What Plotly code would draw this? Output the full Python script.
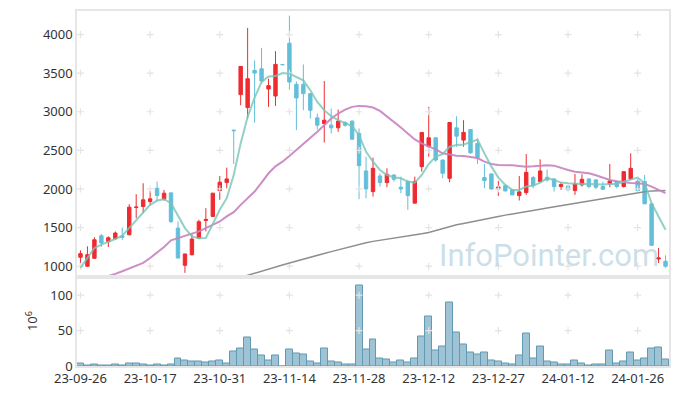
import pandas as pd
import plotly.graph_objects as go

# ---- trading days (KRX calendar) ----
holidays = ["2023-09-28", "2023-09-29", "2023-10-02", "2023-10-03", "2023-10-09",
            "2023-12-25", "2023-12-29", "2024-01-01"]
days = [d for d in pd.bdate_range("2023-09-26", "2024-02-01") if d.strftime("%Y-%m-%d") not in holidays]
dates = [d.strftime("%y-%m-%d") for d in days]

# ---- OHLC (KRW) ----
opens = [1115, 999, 1102, 1394, 1317, 1355, 1390, 1407, 1760, 1773,
         1837, 2009, 1867, 1949, 1493, 1011, 1149, 1364, 1592, 1644,
         1979, 2082, 2762, 3222, 3054, 3536, 3557, 3295, 3204, 3610,
         3888, 3355, 3355, 3235, 2921, 2848, 2826, 2792, 2861, 2878,
         2719, 2233, 1966, 2168, 2082, 2181, 2022, 2095, 1816, 2289,
         2547, 2663, 2375, 2138, 2792, 2633, 2770, 2590, 2147, 2194,
         2000, 2043, 1988, 1914, 1953, 2147, 2095, 2151, 2130, 2031,
         2039, 1979, 2052, 2130, 2117, 2031, 2065, 2095, 2031, 2130,
         2100, 2095, 1807, 1093, 1063]
highs = [1205, 1257, 1373, 1416, 1386, 1450, 1500, 1803, 1932, 2074,
         1975, 2095, 1988, 1958, 1579, 1160, 1416, 1601, 1751, 1950,
         2168, 2276, 2765, 3587, 4086, 3665, 3828, 3428, 3785, 3610,
         4245, 3394, 3613, 3240, 2977, 3398, 3041, 3028, 2878, 2891,
         2783, 2418, 2405, 2203, 2267, 2190, 2160, 2117, 2160, 2732,
         3063, 2670, 2380, 2862, 2942, 2891, 2775, 2654, 2323, 2203,
         2104, 2052, 1996, 2168, 2452, 2168, 2383, 2254, 2138, 2087,
         2040, 2194, 2190, 2138, 2125, 2095, 2323, 2104, 2228, 2461,
         2125, 2181, 1810, 1235, 1140]
lows = [977, 990, 1093, 1248, 1248, 1342, 1340, 1399, 1622, 1687,
        1785, 1837, 1850, 1558, 1100, 913, 1136, 1351, 1450, 1640,
        1859, 2009, 2323, 3084, 2912, 2860, 3364, 3063, 3076, 3610,
        3286, 2762, 3020, 2912, 2770, 2602, 2719, 2740, 2805, 2633,
        1867, 1880, 1902, 2031, 2022, 2095, 1945, 1730, 1816, 2224,
        2418, 2353, 2138, 2087, 2547, 2547, 2452, 2323, 2009, 1988,
        1910, 1966, 1919, 1850, 1923, 2009, 2087, 2095, 1966, 1988,
        1979, 1923, 2031, 2009, 1996, 1988, 2022, 2009, 2018, 2117,
        1966, 1805, 1268, 1042, 977]
closes = [1162, 1149, 1342, 1300, 1368, 1429, 1375, 1764, 1765, 1859,
          1872, 1914, 1945, 1579, 1106, 1158, 1351, 1575, 1605, 1945,
          2087, 2130, 2755, 3587, 3428, 3501, 3398, 3338, 3613, 3610,
          3385, 3179, 3235, 3020, 2826, 2891, 2792, 2878, 2826, 2645,
          2301, 2000, 2267, 2082, 2190, 2125, 2000, 1914, 2095, 2732,
          2663, 2375, 2203, 2860, 2684, 2732, 2469, 2405, 2108, 2000,
          2026, 1975, 1923, 1962, 2215, 2043, 2233, 2117, 2031, 2057,
          1988, 2065, 2125, 2031, 2022, 1996, 2104, 2031, 2224, 2267,
          1979, 1807, 1270, 1106, 999]

# ---- moving averages ----
ma5 = [977, 1106, 1235, 1278, 1312, 1351, 1394, 1493, 1601, 1700,
       1794, 1850, 1867, 1816, 1644, 1493, 1386, 1360, 1364, 1558,
       1730, 1880, 2181, 2590, 2934, 3183, 3385, 3458, 3463, 3501,
       3493, 3450, 3407, 3278, 3127, 3020, 2942, 2891, 2856, 2813,
       2697, 2482, 2353, 2246, 2181, 2151, 2138, 2095, 2082, 2181,
       2323, 2418, 2452, 2547, 2568, 2577, 2605, 2641, 2461, 2289,
       2147, 2052, 1988, 1988, 2031, 2043, 2082, 2138, 2117, 2082,
       2074, 2065, 2065, 2065, 2057, 2057, 2065, 2065, 2095, 2125,
       2147, 2074, 1816, 1644, 1472]
ma20 = [765, 790, 815, 840, 865, 900, 934, 973, 1007, 1042,
        1106, 1179, 1248, 1334, 1364, 1386, 1420, 1450, 1493, 1536,
        1579, 1644, 1700, 1794, 1880, 1966, 2082, 2203, 2293, 2353,
        2426, 2504, 2572, 2654, 2740, 2826, 2912, 2977, 3028, 3063,
        3076, 3071, 3054, 3011, 2942, 2869, 2796, 2719, 2641, 2590,
        2555, 2512, 2461, 2444, 2431, 2426, 2416, 2400, 2353, 2323,
        2310, 2310, 2306, 2297, 2289, 2293, 2302, 2306, 2302, 2271,
        2246, 2224, 2211, 2203, 2177, 2142, 2117, 2099, 2087, 2078,
        2074, 2065, 2031, 1988, 1945]
ma60 = [None] * 21 + [
        800, 828, 855, 885, 912, 940, 965, 990, 1016,
        1042, 1068, 1093, 1117, 1141, 1165, 1188, 1213, 1239, 1263,
        1287, 1304, 1321, 1334, 1347, 1360, 1373, 1388, 1403, 1420,
        1437, 1463, 1489, 1512, 1536, 1553, 1573, 1589, 1605, 1625,
        1644, 1661, 1678, 1693, 1708, 1723, 1738, 1753, 1768, 1788,
        1807, 1822, 1837, 1852, 1867, 1880, 1893, 1906, 1919, 1936,
        1953, 1964, 1975, 1977, 1979]

# ---- volume (x 10^6 shares) ----
volume = [3.4, 0.5, 2, 0.5, 0.5, 2, 0.5, 3.4, 3.4, 2,
          0.5, 2, 0.5, 2, 10.5, 7.6, 6.2, 6.2, 4.8, 6.2,
          7.6, 3.4, 20.4, 24.6, 40.2, 23.2, 14.7, 7.6, 14.7, 0,
          23.2, 17.6, 16.1, 6.2, 3.4, 24.6, 6.2, 4.8, 2, 2,
          113.9, 23.2, 37.4, 10.5, 9, 4.8, 7.6, 4.8, 10.5, 41.6,
          70, 21.8, 27.5, 89.8, 47.3, 30.3, 19, 16.1, 19, 7.6,
          6.2, 3.4, 2, 14.7, 45.9, 10.5, 27.5, 6.2, 4.8, 2,
          2, 7.6, 3.4, 0.5, 2, 2, 21.8, 3.4, 6.2, 19,
          7.6, 10.5, 24.6, 26, 9]

x_ticks = [dates[i] for i in range(0, len(dates), 10)]
price_ticks = [1000, 1500, 2000, 2500, 3000, 3500, 4000]
vol_ticks = [50, 100]

RED = "#ee2b30"
BLUE = "#63bfd9"
FRAME = "#e6e6e6"
GRIDC = "#e4e4e4"
FONT = "Noto Sans"

fig = go.Figure()

# plus-shaped grid marks (drawn first, behind the data)
fig.add_trace(go.Scatter(
    x=[t for t in x_ticks for _ in price_ticks], y=[p for _ in x_ticks for p in price_ticks],
    mode="markers", marker=dict(symbol="cross-thin", size=5, line=dict(color=GRIDC, width=1.2)),
    hoverinfo="skip", showlegend=False, xaxis="x", yaxis="y"))
fig.add_trace(go.Scatter(
    x=[t for t in x_ticks for _ in vol_ticks], y=[p for _ in x_ticks for p in vol_ticks],
    mode="markers", marker=dict(symbol="cross-thin", size=5, line=dict(color=GRIDC, width=1.2)),
    hoverinfo="skip", showlegend=False, xaxis="x2", yaxis="y2"))

fig.add_trace(go.Bar(x=dates, y=volume, marker=dict(color="rgba(132,180,201,0.8)",
                     line=dict(color="#6399b2", width=1)),
                     showlegend=False, xaxis="x2", yaxis="y2"))

fig.add_trace(go.Scatter(x=dates, y=ma60, mode="lines", line=dict(color="#8e8e8e", width=1.5),
                         showlegend=False, xaxis="x", yaxis="y"))
fig.add_trace(go.Scatter(x=dates, y=ma20, mode="lines", line=dict(color="rgba(200,130,192,0.9)", width=2),
                         showlegend=False, xaxis="x", yaxis="y"))
fig.add_trace(go.Candlestick(
    x=dates, open=opens, high=highs, low=lows, close=closes,
    increasing=dict(line=dict(color=RED, width=1), fillcolor=RED),
    decreasing=dict(line=dict(color=BLUE, width=1), fillcolor=BLUE),
    whiskerwidth=0, showlegend=False, xaxis="x", yaxis="y"))
fig.add_trace(go.Scatter(x=dates, y=ma5, mode="lines", line=dict(color="rgba(120,196,182,0.8)", width=2),
                         showlegend=False, xaxis="x", yaxis="y"))

split = (367 - 278) / 357.0

axis_common = dict(showline=True, linecolor=FRAME, linewidth=1.5, mirror=True,
                   showgrid=False, zeroline=False, ticks="",
                   tickfont=dict(family=FONT, size=13, color="#333333"))

fig.update_layout(
    width=680, height=396,
    margin=dict(l=77, r=9, t=10, b=29),
    paper_bgcolor="white", plot_bgcolor="white",
    bargap=0, boxgap=0.3,
    xaxis=dict(type="category", categoryorder="array", categoryarray=dates,
               range=[-0.5, len(dates) - 0.5], domain=[0, 1], anchor="y",
               showticklabels=False, rangeslider=dict(visible=False),
               tickvals=x_ticks, **axis_common),
    xaxis2=dict(type="category", categoryorder="array", categoryarray=dates,
                range=[-0.5, len(dates) - 0.5], domain=[0, 1], anchor="y2",
                matches="x", tickvals=x_ticks, ticktext=x_ticks, tickangle=0, **axis_common),
    yaxis=dict(domain=[split, 1], range=[853, 4305], tickvals=price_ticks, anchor="x", **axis_common),
    yaxis2=dict(domain=[0, split], range=[0, 125], tickvals=[0, 50, 100], anchor="x2", **axis_common),
    annotations=[
        dict(text="InfoPointer.com", xref="paper", yref="paper", x=0.987, y=0.31,
             xanchor="right", yanchor="middle", showarrow=False,
             font=dict(family="Roboto", size=31, color="rgba(160,196,213,0.55)")),
        dict(text="10<sup>6</sup>", xref="paper", yref="paper", x=-0.078, y=0.126,
             xanchor="center", yanchor="middle", textangle=-90, showarrow=False,
             font=dict(family=FONT, size=13, color="#333333")),
    ],
)

fig.write_html("out.html")
